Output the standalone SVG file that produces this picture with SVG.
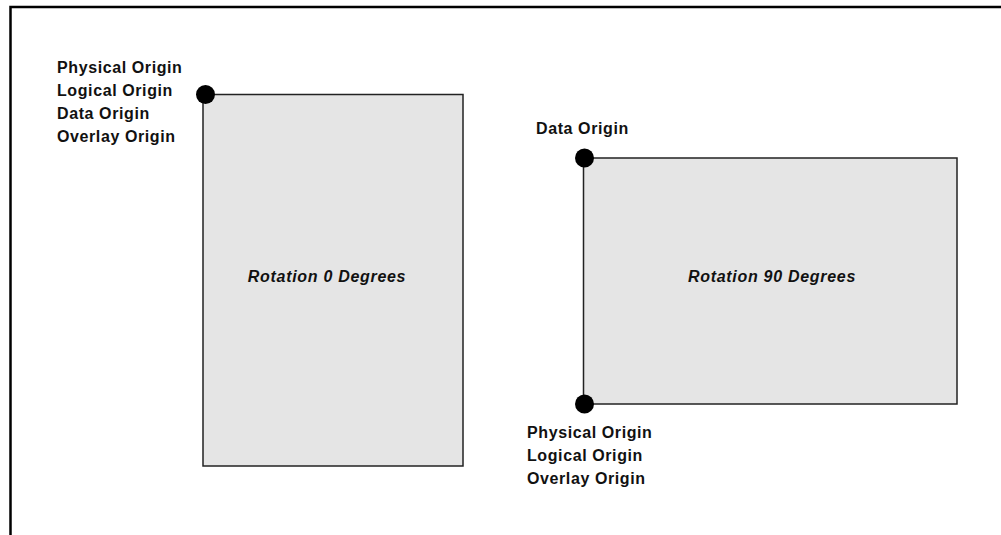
<svg xmlns="http://www.w3.org/2000/svg" width="1001" height="535" viewBox="0 0 1001 535">
<style>
.lbl{font-family:"Liberation Sans",Arial,sans-serif;font-weight:bold;font-size:16px;letter-spacing:0.6px;fill:#111}
.ttl{font-family:"Liberation Sans",Arial,sans-serif;font-weight:bold;font-style:italic;font-size:16px;letter-spacing:0.7px;fill:#111}
.box{fill:#e5e5e5;stroke:#222;stroke-width:1.5}
.dot{fill:#000}
</style>
<rect width="1001" height="535" fill="#fff"/>
<g id="frame">
<path d="M10.5 535 V7 H1001" fill="none" stroke="#000" stroke-width="2.5"/>
</g>
<g id="rotation0">
<rect class="box" x="203" y="94.5" width="260" height="371.5"/>
<text class="ttl" x="327" y="282" text-anchor="middle">Rotation 0 Degrees</text>
</g>
<g id="rotation90">
<rect class="box" x="583.5" y="158" width="373.5" height="246"/>
<text class="ttl" x="772" y="282" text-anchor="middle">Rotation 90 Degrees</text>
</g>
<g id="origin0">
<circle class="dot" cx="205.5" cy="94.5" r="9.5"/>
<text class="lbl" x="57" y="73">Physical Origin</text>
<text class="lbl" x="57" y="96">Logical Origin</text>
<text class="lbl" x="57" y="119">Data Origin</text>
<text class="lbl" x="57" y="142">Overlay Origin</text>
</g>
<g id="origin90-data">
<circle class="dot" cx="584.5" cy="158" r="9.5"/>
<text class="lbl" x="536" y="134">Data Origin</text>
</g>
<g id="origin90-physical">
<circle class="dot" cx="584.5" cy="404" r="9.5"/>
<text class="lbl" x="527" y="438">Physical Origin</text>
<text class="lbl" x="527" y="461">Logical Origin</text>
<text class="lbl" x="527" y="484">Overlay Origin</text>
</g>
<g id="connectors"></g>
</svg>
